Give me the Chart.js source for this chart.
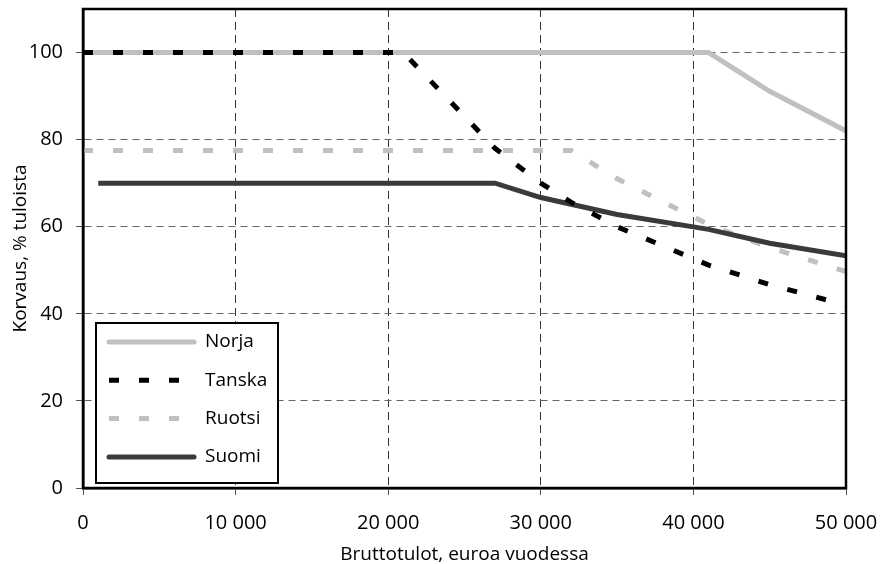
<!DOCTYPE html>
<html>
<head>
<meta charset="utf-8">
<script src="https://cdn.jsdelivr.net/npm/chart.js@4"></script>
<style>
html, body { margin: 0; padding: 0; background: #fff; }
#wrap { width: 881px; height: 564px; }
</style>
</head>
<body>
<div id="wrap"><canvas id="chart" width="881" height="564"></canvas></div>
<script>
// Data (x = gross income €/year, y = compensation %)
const seriesNames = ['Norja', 'Tanska', 'Ruotsi', 'Suomi'];

const norjaX = [0, 41000, 45000, 50000];
const norjaY = [100, 100, 91.1, 82];

const tanskaX = [0, 21000, 27000, 30000, 32000, 35000, 41000, 45000, 50000];
const tanskaY = [100, 100, 78, 70, 65.6, 60, 51.2, 46.7, 42];

const ruotsiX = [0, 32000, 35000, 41000, 45000, 50000];
const ruotsiY = [77.5, 77.5, 71, 60.5, 55.2, 49.7];

const suomiX = [1000, 27000, 30000, 35000, 41000, 45000, 50000];
const suomiY = [70, 70, 66.7, 62.8, 59.4, 56.2, 53.3];

const xTicks = [0, 10000, 20000, 30000, 40000, 50000];
const yTicks = [0, 20, 40, 60, 80, 100];

const xTitle = 'Bruttotulot, euroa vuodessa';
const yTitle = 'Korvaus, % tuloista';

// pair up x and y arrays into points
function toPoints(xs, ys) {
    return xs.map((x, i) => ({ x: x, y: ys[i] }));
}

// thousands with a space: 10 000
function formatNumber(v) {
    return String(v).replace(/\B(?=(\d{3})+(?!\d))/g, ' ');
}

const FONT = "'Open Sans', 'Noto Sans', sans-serif";

// Draws the box round the plot and the legend inside the plot area
const frameAndLegend = {
    id: 'frameAndLegend',
    afterDatasetsDraw(chart) {
        const ctx = chart.ctx;
        const area = chart.chartArea;
        ctx.save();

        // legend box
        const boxW = 182, boxH = 160;
        const bx = area.left + 13;
        const by = area.bottom - 5 - boxH;
        ctx.fillStyle = '#fff';
        ctx.fillRect(bx, by, boxW, boxH);
        ctx.lineWidth = 2;
        ctx.strokeStyle = '#000';
        ctx.setLineDash([]);
        ctx.strokeRect(bx, by, boxW, boxH);

        chart.data.datasets.forEach((ds, i) => {
            const rowY = by + 19 + i * 38.3;
            ctx.beginPath();
            ctx.lineWidth = ds.borderWidth;
            ctx.strokeStyle = ds.borderColor;
            ctx.setLineDash(ds.borderDash || []);
            ctx.lineCap = (ds.borderDash && ds.borderDash.length) ? 'butt' : 'round';
            ctx.moveTo(bx + 13, rowY);
            ctx.lineTo(bx + 98, rowY);
            ctx.stroke();

            ctx.setLineDash([]);
            ctx.fillStyle = '#000';
            ctx.font = '19px ' + FONT;
            ctx.textBaseline = 'middle';
            ctx.textAlign = 'left';
            ctx.fillText(ds.label, bx + 109, rowY);
        });

        // frame round the whole plot
        ctx.lineWidth = 2.5;
        ctx.strokeStyle = '#000';
        ctx.lineCap = 'butt';
        ctx.strokeRect(area.left, area.top, area.right - area.left, area.bottom - area.top);
        ctx.restore();
    }
};

const ctx = document.getElementById('chart');

new Chart(ctx, {
    type: 'line',
    data: {
        datasets: [
            {
                label: seriesNames[0],
                data: toPoints(norjaX, norjaY),
                borderColor: '#c0c0c0',
                borderWidth: 5,
                order: 3
            },
            {
                label: seriesNames[1],
                data: toPoints(tanskaX, tanskaY),
                borderColor: '#000000',
                borderWidth: 5,
                borderDash: [10, 20],
                order: 0
            },
            {
                label: seriesNames[2],
                data: toPoints(ruotsiX, ruotsiY),
                borderColor: '#c0c0c0',
                borderWidth: 5,
                borderDash: [10, 20],
                order: 2
            },
            {
                label: seriesNames[3],
                data: toPoints(suomiX, suomiY),
                borderColor: '#3a3a3a',
                borderWidth: 5,
                order: 1
            }
        ]
    },
    options: {
        responsive: false,
        animation: false,
        parsing: false,
        elements: {
            point: { radius: 0, hoverRadius: 0 },
            line: { tension: 0, fill: false, borderCapStyle: 'butt' }
        },
        layout: { padding: { top: 9, right: 35, left: 0, bottom: 0 } },
        plugins: {
            legend: { display: false },
            tooltip: { enabled: false }
        },
        scales: {
            x: {
                type: 'linear',
                min: 0,
                max: 50000,
                afterBuildTicks: axis => { axis.ticks = xTicks.map(v => ({ value: v })); },
                afterFit: scale => {
                    scale.height = 76;
                    scale.paddingLeft = 0;
                    scale.paddingRight = 0;
                },
                ticks: {
                    color: '#000',
                    font: { family: FONT, size: 20 },
                    padding: 16,
                    maxRotation: 0,
                    callback: v => formatNumber(v)
                },
                grid: {
                    color: '#333',
                    lineWidth: 1,
                    tickLength: 7,
                    tickColor: '#555',
                    tickBorderDash: []
                },
                border: { display: true, color: '#000', width: 2.5, dash: [8, 5] },
                title: {
                    display: true,
                    text: xTitle,
                    color: '#000',
                    font: { family: FONT, size: 19, lineHeight: 1.0 },
                    padding: { top: 0, bottom: 0 }
                }
            },
            y: {
                type: 'linear',
                min: 0,
                max: 110,
                afterBuildTicks: axis => { axis.ticks = yTicks.map(v => ({ value: v })); },
                afterFit: scale => {
                    scale.width = 83;
                    scale.paddingTop = 0;
                    scale.paddingBottom = 0;
                },
                ticks: {
                    color: '#000',
                    font: { family: FONT, size: 20 },
                    padding: 13
                },
                grid: {
                    color: '#666',
                    lineWidth: 1,
                    tickLength: 7,
                    tickColor: '#555',
                    tickBorderDash: []
                },
                border: { display: true, color: '#000', width: 2.5, dash: [7, 5] },
                title: {
                    display: true,
                    text: yTitle,
                    color: '#000',
                    font: { family: FONT, size: 19 },
                    padding: { top: 9, bottom: 0 }
                }
            }
        }
    },
    plugins: [frameAndLegend]
});
</script>
</body>
</html>
